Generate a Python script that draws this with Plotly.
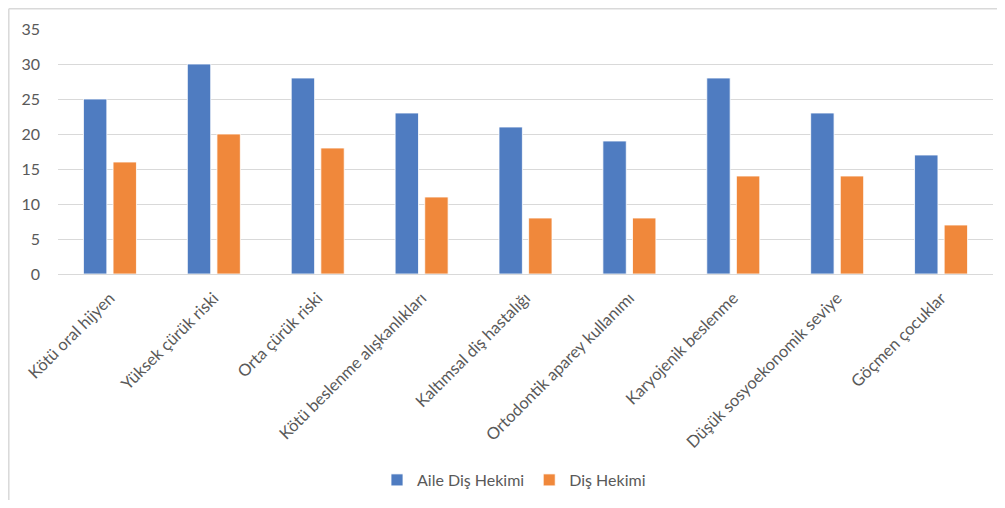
import plotly.graph_objects as go

categories = ["Kötü oral hijyen", "Yüksek çürük riski", "Orta çürük riski",
              "Kötü beslenme alışkanlıkları", "Kaltımsal diş hastalığı",
              "Ortodontik aparey kullanımı", "Karyojenik beslenme",
              "Düşük sosyoekonomik seviye", "Göçmen çocuklar"]
aile_dis_hekimi = [25, 30, 28, 23, 21, 19, 28, 23, 17]
dis_hekimi = [16, 20, 18, 11, 8, 8, 14, 14, 7]
y_ticks = [0, 5, 10, 15, 20, 25, 30, 35]

FONT = "Lato, 'Open Sans', sans-serif"
GRAY = "#595959"

fig = go.Figure()
fig.add_trace(go.Bar(x=categories, y=aile_dis_hekimi, name="Aile Diş Hekimi",
                     marker=dict(color="#4F7CC1", line=dict(color="#FFFFFF", width=0.8))))
fig.add_trace(go.Bar(x=categories, y=dis_hekimi, name="Diş Hekimi",
                     marker=dict(color="#F0883B", line=dict(color="#FFFFFF", width=0.8))))

# the page body has an 8px margin; figure sized to fit the 1005x508 window
OFF = 8
W, H = 1005 - 2 * OFF, 508 - 2 * OFF
L = 58 - OFF
T = 29 - OFF
R = W - (993 - OFF)
B = H - (274 - OFF)
pw, ph = W - L - R, H - T - B

def px(x_page):
    return (x_page - OFF - L) / pw

def py(y_page):
    return (H - B - (y_page - OFF)) / ph

fig.update_layout(
    width=W, height=H,
    margin=dict(l=L, r=R, t=T, b=B, autoexpand=False),
    paper_bgcolor="white", plot_bgcolor="white",
    barmode="group", bargap=0.43, bargroupgap=0.21,
    font=dict(family=FONT, size=16, color=GRAY),
    showlegend=True,
    legend=dict(orientation="h", x=px(514), xanchor="center", y=py(480), yanchor="middle",
                font=dict(family=FONT, size=16, color=GRAY), itemwidth=30,
                traceorder="normal"),
    xaxis=dict(tickangle=-45, showgrid=False, showline=False,
               ticks="outside", ticklen=7, tickcolor="rgba(0,0,0,0)",
               tickfont=dict(family=FONT, size=16.5, color=GRAY)),
    yaxis=dict(range=[0, 35], tickvals=y_ticks, showgrid=True, gridcolor="#D9D9D9",
               gridwidth=1, zeroline=True, zerolinecolor="#D9D9D9", zerolinewidth=1,
               showline=False, ticks="", ticklabelstandoff=17,
               tickfont=dict(family=FONT, size=16, color=GRAY)),
    shapes=[
        dict(type="line", xref="paper", yref="paper",
             x0=px(8.8), x1=px(1005), y0=py(8.8), y1=py(8.8),
             line=dict(color="#D9D9D9", width=1.5), layer="below"),
        dict(type="line", xref="paper", yref="paper",
             x0=px(8.8), x1=px(8.8), y0=py(8.8), y1=py(508),
             line=dict(color="#D9D9D9", width=1.5), layer="below"),
    ],
)

fig.write_html("out.html")
